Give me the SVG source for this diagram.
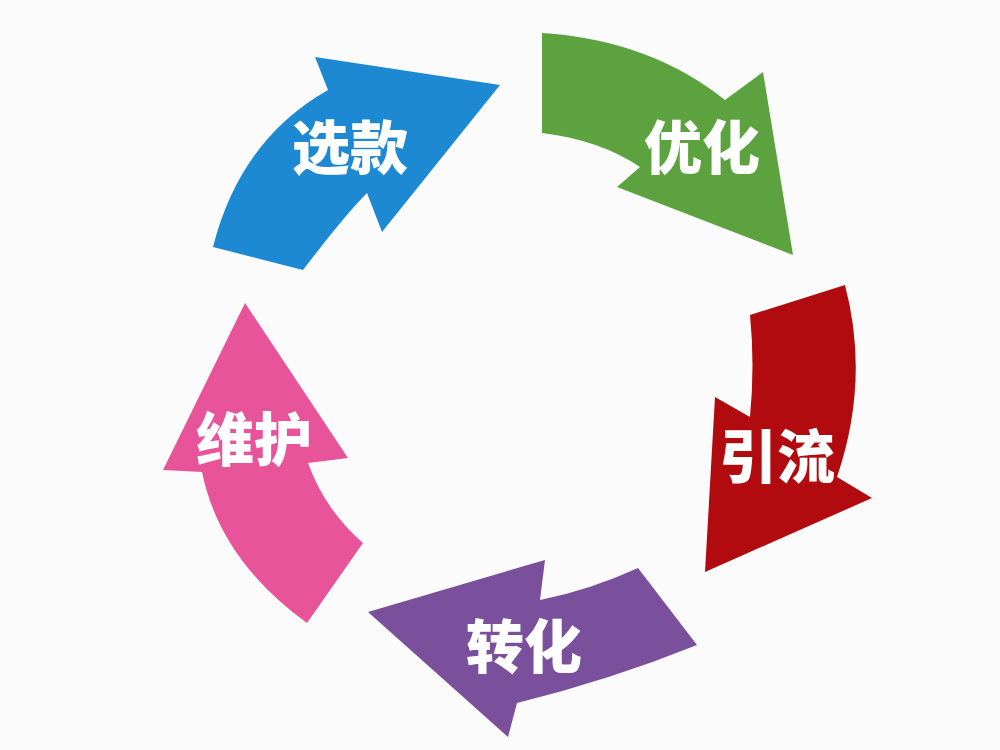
<svg xmlns="http://www.w3.org/2000/svg" width="1000" height="750" viewBox="0 0 1000 750">
<style>
.lbl{font-family:"Noto Sans CJK SC","Noto Sans",sans-serif;font-weight:900;font-size:58px;fill:#ffffff;text-anchor:middle}
</style>
<rect width="1000" height="750" fill="#fbfbfc"/>
<g id="xuankuan">
<path d="M213,247 Q240,140 328,90 L315,57 L500,85 L382,232 L367,193 Q345,215 303,270 Z" fill="#1d89d2"/>
<text class="lbl" x="350" y="169">选款</text>
</g>
<g id="youhua">
<path d="M542,33 Q650,40 725,100 L763,72 L793,255 L617,187 L640,167 Q600,140 542,133 Z" fill="#5ca33f"/>
<text class="lbl" x="702" y="169">优化</text>
</g>
<g id="yinliu">
<path d="M750,315 L845,285 Q870,380 837,477 L872,498 L705,572 L715,397 L750,417 Q755,365 750,315 Z" fill="#b10b0f"/>
<text class="lbl" x="777" y="478">引流</text>
</g>
<g id="zhuanhua">
<path d="M638,568 Q590,590 540,600 L545,560 L368,612 L508,737 L517,703 Q610,680 697,645 Z" fill="#7a4f9b"/>
<text class="lbl" x="524" y="668">转化</text>
</g>
<g id="weihu">
<path d="M245,303 L348,458 L308,463 Q325,510 363,543 L307,623 Q220,560 202,472 L163,470 Z" fill="#e8549a"/>
<text class="lbl" x="254" y="461">维护</text>
</g>
</svg>
